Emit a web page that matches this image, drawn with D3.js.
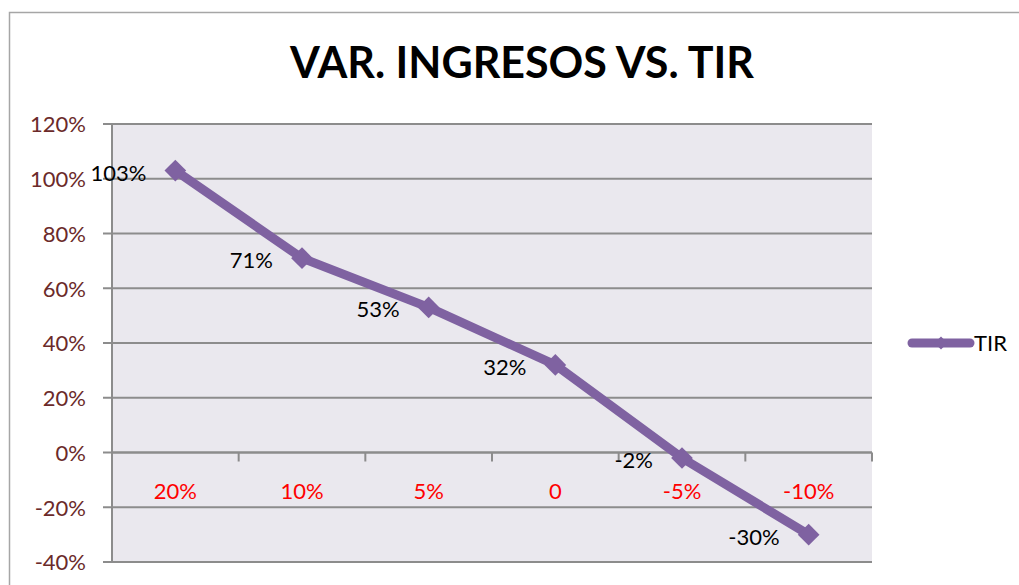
<!DOCTYPE html>
<html>
<head>
<meta charset="utf-8">
<script src="https://cdn.jsdelivr.net/npm/d3@7"></script>
<style>
  body { margin: 0; background: #fff; }
  text { font-family: Lato, "Open Sans", sans-serif; }
</style>
</head>
<body>
<div id="chart"></div>
<script>
var categories = ["20%", "10%", "5%", "0", "-5%", "-10%"];
var tirValues = [1.03, 0.71, 0.53, 0.32, -0.02, -0.30];
var dataLabels = ["103%", "71%", "53%", "32%", "-2%", "-30%"];
var yTicks = [-0.4, -0.2, 0, 0.2, 0.4, 0.6, 0.8, 1.0, 1.2];
var seriesName = "TIR";

var W = 1019, H = 585;
var margin = { left: 112, right: 147, top: 124, bottom: 23 };
var width = W - margin.left - margin.right,
    height = H - margin.top - margin.bottom;

var purple = "#7F62A1";

var root = d3.select("#chart").append("svg")
    .attr("width", W)
    .attr("height", H);

// outer frame (only left and top edges visible)
root.append("path")
    .attr("d", "M9.5,585 V12.5 H1019")
    .attr("fill", "none")
    .attr("stroke", "#a6a6a6")
    .attr("stroke-width", 1.5);

root.append("text")
    .attr("x", 522)
    .attr("y", 78)
    .attr("text-anchor", "middle")
    .attr("font-size", "43px")
    .attr("font-weight", "bold")
    .style("fill", "#000")
    .text("VAR. INGRESOS VS. TIR");

var svg = root.append("g")
    .attr("transform", "translate(" + margin.left + "," + margin.top + ")");

var xScale = d3.scaleBand().domain(categories).range([0, width]);
var yScale = d3.scaleLinear().domain([-0.4, 1.2]).range([height, 0]);

svg.append("rect")
    .attr("width", width)
    .attr("height", height)
    .style("fill", "#EAE8EE");

// horizontal grid
svg.append("g")
    .selectAll("line")
    .data(yTicks)
    .enter().append("line")
        .attr("x1", -9)
        .attr("x2", width)
        .attr("y1", function(d){ return yScale(d); })
        .attr("y2", function(d){ return yScale(d); })
        .style("stroke", "#8c8c8c")
        .style("stroke-width", 2);

// y axis line
svg.append("line")
    .attr("x1", 0).attr("x2", 0)
    .attr("y1", 0).attr("y2", height)
    .style("stroke", "#8c8c8c")
    .style("stroke-width", 2);

// y labels
var pct = function(d){ return Math.round(d * 100) + "%"; };
var yaxis = d3.axisLeft(yScale)
    .tickValues(yTicks)
    .tickFormat(pct)
    .tickSize(0)
    .tickPadding(26);
var yg = svg.append("g").call(yaxis);
yg.select(".domain").remove();
yg.selectAll("text")
    .attr("font-size", "22px")
    .style("fill", "#6B2A2A")
    .attr("dy", "0.36em");

// x axis at zero with ticks at band edges
var zeroY = yScale(0);
var edges = categories.map(function(c){ return xScale(c); }).concat([width]);
svg.append("line")
    .attr("x1", 0).attr("x2", width)
    .attr("y1", zeroY).attr("y2", zeroY)
    .style("stroke", "#8c8c8c")
    .style("stroke-width", 2);
svg.append("g")
    .selectAll("line")
    .data(edges)
    .enter().append("line")
        .attr("x1", function(d){ return d; })
        .attr("x2", function(d){ return d; })
        .attr("y1", zeroY)
        .attr("y2", zeroY + 9)
        .style("stroke", "#8c8c8c")
        .style("stroke-width", 2);

svg.append("g")
    .selectAll("text")
    .data(categories)
    .enter().append("text")
        .attr("x", function(d){ return xScale(d) + xScale.bandwidth() / 2; })
        .attr("y", zeroY + 46)
        .attr("text-anchor", "middle")
        .attr("font-size", "22px")
        .style("fill", "#FF0000")
        .text(function(d){ return d; });

// series
var points = categories.map(function(c, i){
    return { cat: c, value: tirValues[i], label: dataLabels[i] };
});
var cx = function(d){ return xScale(d.cat) + xScale.bandwidth() / 2; };

var line = d3.line()
    .x(cx)
    .y(function(d){ return yScale(d.value); });

svg.append("path")
    .datum(points)
    .attr("d", line)
    .style("fill", "none")
    .style("stroke", purple)
    .style("stroke-width", 9)
    .style("stroke-linejoin", "round");

var diamond = d3.symbol().type(d3.symbolDiamond2).size(300);

svg.selectAll(".marker")
    .data(points)
    .enter().append("path")
        .attr("class", "marker")
        .attr("d", diamond)
        .attr("transform", function(d){ return "translate(" + cx(d) + "," + yScale(d.value) + ")"; })
        .style("fill", purple);

svg.selectAll(".dlabel")
    .data(points)
    .enter().append("text")
        .attr("class", "dlabel")
        .attr("x", function(d){ return cx(d) - 29; })
        .attr("y", function(d){ return yScale(d.value) + 10; })
        .attr("text-anchor", "end")
        .attr("font-size", "22px")
        .style("fill", "#000")
        .text(function(d){ return d.label; });

// legend
var lg = root.append("g").attr("transform", "translate(912,343)");
lg.append("line")
    .attr("x1", 0).attr("x2", 58)
    .attr("y1", 0).attr("y2", 0)
    .style("stroke", purple)
    .style("stroke-width", 9)
    .style("stroke-linecap", "round");
lg.append("path")
    .attr("d", d3.symbol().type(d3.symbolDiamond2).size(110))
    .attr("transform", "translate(29,0)")
    .style("fill", purple);
lg.append("text")
    .attr("x", 62)
    .attr("y", 8)
    .attr("font-size", "22px")
    .style("fill", "#000")
    .text(seriesName);
</script>
</body>
</html>
